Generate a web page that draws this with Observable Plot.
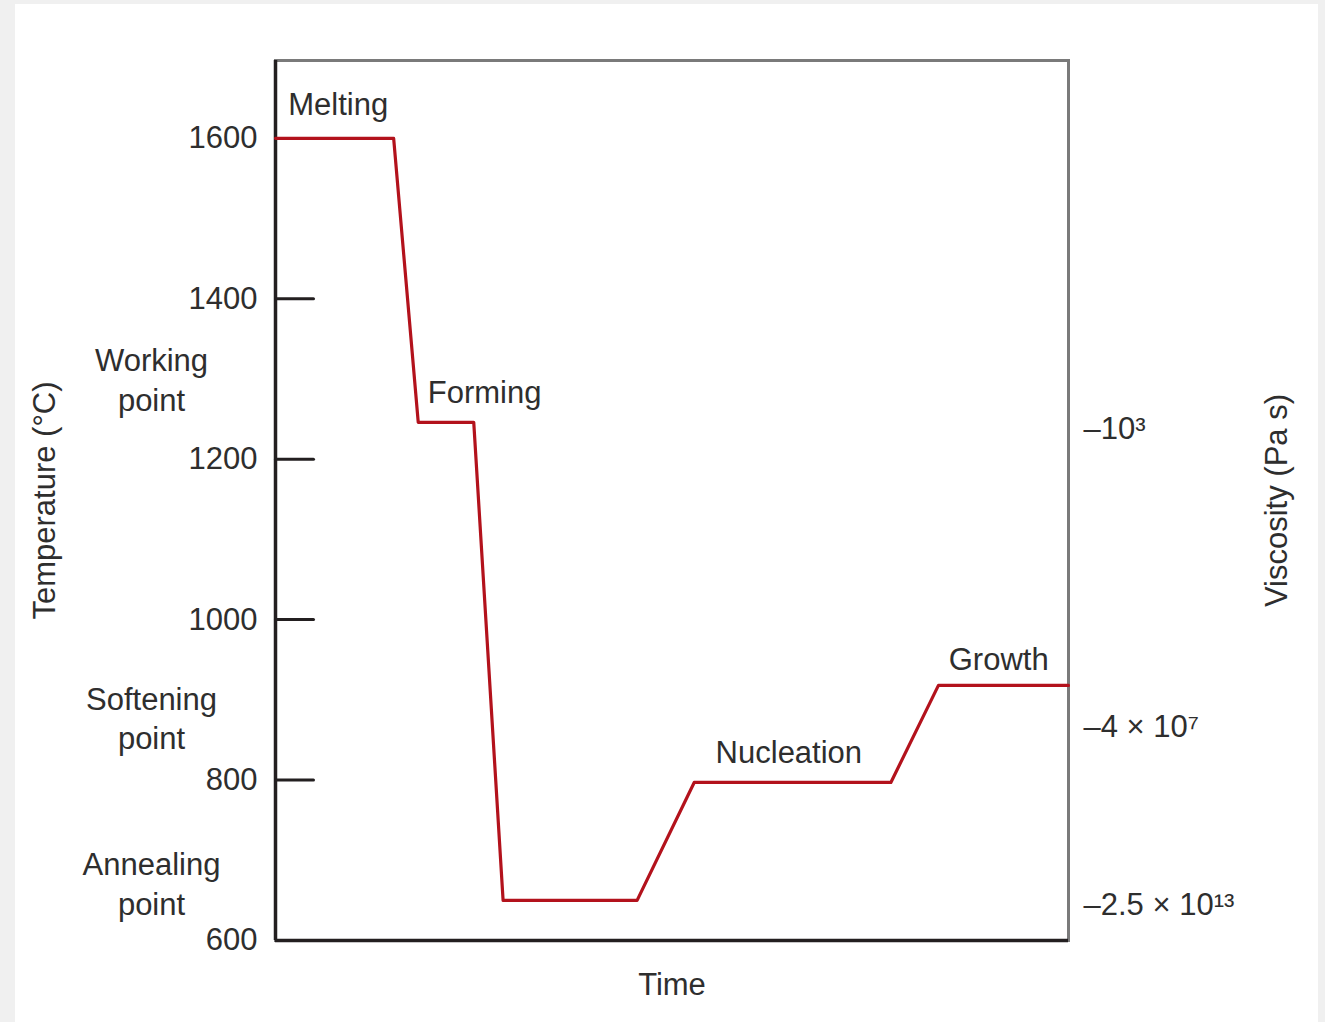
<!DOCTYPE html>
<html>
<head>
<meta charset="utf-8">
<script src="https://cdn.jsdelivr.net/npm/d3@7"></script>
<script src="https://cdn.jsdelivr.net/npm/@observablehq/plot@0.6"></script>
<style>
  html, body { margin: 0; padding: 0; background: #f0f0f0; width: 1325px; height: 1022px; overflow: hidden; }
  #panel { position: absolute; left: 15px; top: 4px; width: 1303px; height: 1018px; background: #ffffff; }
</style>
</head>
<body>
<div id="panel"></div>
<script>
// Temperature–time schedule (time in arbitrary units 0–100)
const times = [0, 14.9, 18.0, 25.0, 28.7, 45.6, 52.8, 77.6, 83.6, 100];
const temps = [1600, 1600, 1246, 1246, 650, 650, 797, 797, 918, 918];

// Stage labels on the curve
const stageNames = ["Melting", "Forming", "Nucleation", "Growth"];
const stageTimes = [1.6, 19.2, 55.5, 84.9];
const stageTemps = [1641, 1282, 834, 949];

// Reference points on the left
const pointNames = ["Working\npoint", "Softening\npoint", "Annealing\npoint"];
const pointTemps = [1301, 879, 673];

// Viscosity labels on the right
const viscLabels = ["–10³", "–4 × 10⁷", "–2.5 × 10¹³"];
const viscTemps = [1238, 866, 644];

// Axis ticks
const tickLabels = [600, 800, 1000, 1200, 1400, 1600];
const innerTicks = [800, 1000, 1200, 1400];

const series = times.map((t, i) => ({time: t, temp: temps[i]}));
const stages = stageNames.map((n, i) => ({name: n, time: stageTimes[i], temp: stageTemps[i]}));
const points = pointNames.map((n, i) => ({name: n, temp: pointTemps[i]}));
const visc = viscLabels.map((n, i) => ({name: n, temp: viscTemps[i]}));

const textColor = "#2e2e2e";
const tickShape = {draw(context, l) { context.moveTo(0, 0); context.lineTo(0, -l); }};

const chart = Plot.plot({
  width: 1303,
  height: 1018,
  marginLeft: 260,
  marginRight: 250,
  marginTop: 56,
  marginBottom: 82,
  style: {fontFamily: "'Liberation Sans', Arial, sans-serif", fontSize: "31px", color: textColor, background: "transparent"},
  x: {domain: [0, 100], axis: null},
  y: {domain: [600, 1697], axis: null},
  marks: [
    Plot.frame({stroke: "#7a7a7a", strokeWidth: 3}),
    Plot.ruleX([0], {stroke: "#231f20", strokeWidth: 3.5}),
    Plot.ruleY([600], {stroke: "#231f20", strokeWidth: 3.5}),
    Plot.vector(innerTicks, {y: d => d, frameAnchor: "left", rotate: 90, length: 38, anchor: "start", shape: tickShape, stroke: "#231f20", strokeWidth: 3}),
    Plot.axisY({ticks: tickLabels, tickSize: 0, tickPadding: 18, tickFormat: d => String(d), label: null, fill: textColor}),
    Plot.line(series, {x: "time", y: "temp", stroke: "#b3121c", strokeWidth: 3.2, curve: "linear"}),
    Plot.text(stages, {x: "time", y: "temp", text: "name", textAnchor: "start", fill: textColor}),
    Plot.text(points, {y: "temp", text: "name", frameAnchor: "left", dx: -124, textAnchor: "middle", lineHeight: 1.29, fill: textColor}),
    Plot.text(visc, {y: "temp", text: "name", frameAnchor: "right", dx: 15, textAnchor: "start", fill: textColor}),
    Plot.text(["Temperature (°C)"], {frameAnchor: "left", dx: -230, rotate: -90, textAnchor: "middle", lineAnchor: "middle", fill: textColor}),
    Plot.text(["Viscosity (Pa s)"], {frameAnchor: "right", dx: 209, rotate: -90, textAnchor: "middle", lineAnchor: "middle", fill: textColor}),
    Plot.text(["Time"], {frameAnchor: "bottom", dy: 45, lineAnchor: "middle", fill: textColor})
  ]
});
document.getElementById("panel").appendChild(chart);
</script>
</body>
</html>
